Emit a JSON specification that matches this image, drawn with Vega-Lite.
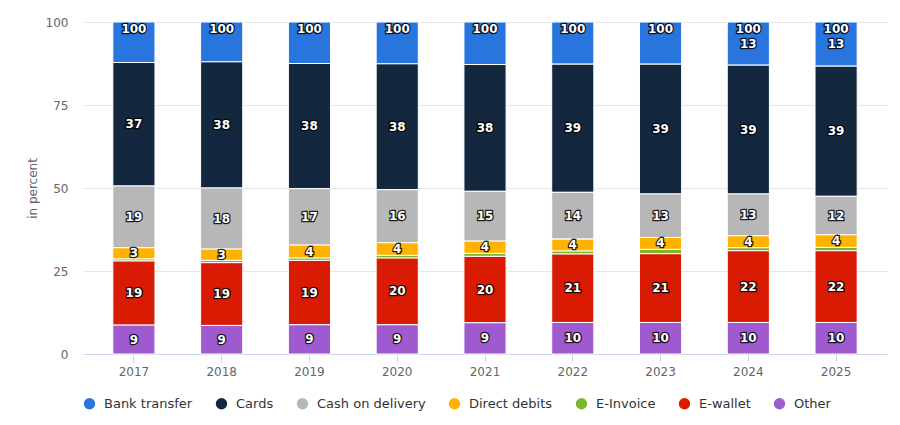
{
  "$schema": "https://vega.github.io/schema/vega-lite/v6.json",
  "width": 804,
  "height": 332,
  "autosize": {"type": "none"},
  "padding": {"left": 83, "top": 22, "right": 13, "bottom": 71},
  "background": "#ffffff",
  "config": {
    "font": "DejaVu Sans",
    "view": {"stroke": null},
    "axis": {"labelFont": "DejaVu Sans", "titleFont": "DejaVu Sans"}
  },
  "data": {"values": [
    {"year": "2017", "cat": "Bank transfer", "value": 12.2},
    {"year": "2017", "cat": "Cards", "value": 37.2},
    {"year": "2017", "cat": "Cash on delivery", "value": 18.6},
    {"year": "2017", "cat": "Direct debits", "value": 3.4},
    {"year": "2017", "cat": "E-Invoice", "value": 0.6},
    {"year": "2017", "cat": "E-wallet", "value": 19.3},
    {"year": "2017", "cat": "Other", "value": 8.7},
    {"year": "2018", "cat": "Bank transfer", "value": 12.0},
    {"year": "2018", "cat": "Cards", "value": 38.0},
    {"year": "2018", "cat": "Cash on delivery", "value": 18.4},
    {"year": "2018", "cat": "Direct debits", "value": 3.4},
    {"year": "2018", "cat": "E-Invoice", "value": 0.7},
    {"year": "2018", "cat": "E-wallet", "value": 18.9},
    {"year": "2018", "cat": "Other", "value": 8.6},
    {"year": "2019", "cat": "Bank transfer", "value": 12.5},
    {"year": "2019", "cat": "Cards", "value": 37.7},
    {"year": "2019", "cat": "Cash on delivery", "value": 17.0},
    {"year": "2019", "cat": "Direct debits", "value": 3.9},
    {"year": "2019", "cat": "E-Invoice", "value": 0.7},
    {"year": "2019", "cat": "E-wallet", "value": 19.4},
    {"year": "2019", "cat": "Other", "value": 8.8},
    {"year": "2020", "cat": "Bank transfer", "value": 12.6},
    {"year": "2020", "cat": "Cards", "value": 37.9},
    {"year": "2020", "cat": "Cash on delivery", "value": 16.0},
    {"year": "2020", "cat": "Direct debits", "value": 3.8},
    {"year": "2020", "cat": "E-Invoice", "value": 0.8},
    {"year": "2020", "cat": "E-wallet", "value": 20.1},
    {"year": "2020", "cat": "Other", "value": 8.8},
    {"year": "2021", "cat": "Bank transfer", "value": 12.8},
    {"year": "2021", "cat": "Cards", "value": 38.2},
    {"year": "2021", "cat": "Cash on delivery", "value": 15.0},
    {"year": "2021", "cat": "Direct debits", "value": 3.7},
    {"year": "2021", "cat": "E-Invoice", "value": 0.9},
    {"year": "2021", "cat": "E-wallet", "value": 20.0},
    {"year": "2021", "cat": "Other", "value": 9.4},
    {"year": "2022", "cat": "Bank transfer", "value": 12.7},
    {"year": "2022", "cat": "Cards", "value": 38.6},
    {"year": "2022", "cat": "Cash on delivery", "value": 14.1},
    {"year": "2022", "cat": "Direct debits", "value": 3.6},
    {"year": "2022", "cat": "E-Invoice", "value": 0.9},
    {"year": "2022", "cat": "E-wallet", "value": 20.6},
    {"year": "2022", "cat": "Other", "value": 9.5},
    {"year": "2023", "cat": "Bank transfer", "value": 12.7},
    {"year": "2023", "cat": "Cards", "value": 39.1},
    {"year": "2023", "cat": "Cash on delivery", "value": 13.1},
    {"year": "2023", "cat": "Direct debits", "value": 3.6},
    {"year": "2023", "cat": "E-Invoice", "value": 1.3},
    {"year": "2023", "cat": "E-wallet", "value": 20.7},
    {"year": "2023", "cat": "Other", "value": 9.5},
    {"year": "2024", "cat": "Bank transfer", "value": 13.0},
    {"year": "2024", "cat": "Cards", "value": 38.8},
    {"year": "2024", "cat": "Cash on delivery", "value": 12.6},
    {"year": "2024", "cat": "Direct debits", "value": 3.6},
    {"year": "2024", "cat": "E-Invoice", "value": 0.9},
    {"year": "2024", "cat": "E-wallet", "value": 21.6},
    {"year": "2024", "cat": "Other", "value": 9.5},
    {"year": "2025", "cat": "Bank transfer", "value": 13.3},
    {"year": "2025", "cat": "Cards", "value": 39.2},
    {"year": "2025", "cat": "Cash on delivery", "value": 11.6},
    {"year": "2025", "cat": "Direct debits", "value": 3.8},
    {"year": "2025", "cat": "E-Invoice", "value": 1.0},
    {"year": "2025", "cat": "E-wallet", "value": 21.6},
    {"year": "2025", "cat": "Other", "value": 9.5}
  ]},
  "encoding": {
    "x": {
      "field": "year", "type": "ordinal",
      "scale": {"paddingInner": 0.52, "paddingOuter": 0.34},
      "axis": {
        "title": null, "labelAngle": 0, "labelColor": "#666666", "labelFontSize": 12,
        "domainColor": "#ccd6eb", "tickColor": "#ccd6eb", "tickSize": 8, "labelPadding": 4,
        "grid": false
      }
    }
  },
  "layer": [
    {
      "mark": {"type": "bar", "stroke": "#ffffff", "strokeWidth": 1},
      "encoding": {
        "y": {
          "field": "value", "type": "quantitative", "stack": "zero",
          "scale": {"domain": [0, 100], "nice": false},
          "axis": {
            "title": "in percent", "titleColor": "#666666", "titleFontWeight": "normal", "titleFontSize": 12,
            "titlePadding": 6,
            "values": [0, 25, 50, 75, 100], "labelColor": "#666666", "labelFontSize": 12,
            "domain": false, "ticks": false, "labelPadding": 15, "gridColor": "#e6e6e6"
          }
        },
        "color": {
          "field": "cat", "type": "nominal",
          "scale": {
            "domain": ["Bank transfer", "Cards", "Cash on delivery", "Direct debits", "E-Invoice", "E-wallet", "Other"],
            "range": ["#2876dd", "#13283e", "#b7b7b7", "#ffb300", "#7cb82f", "#d81b02", "#a05ad0"]
          },
          "legend": {
            "title": null, "orient": "none", "direction": "horizontal",
            "legendX": 0, "legendY": 375,
            "symbolType": "circle", "symbolSize": 130, "symbolStrokeWidth": 0,
            "labelFontSize": 13, "labelColor": "#333333", "labelFont": "DejaVu Sans",
            "columnPadding": 22, "labelOffset": 8
          }
        },
        "order": {"field": "cat", "sort": "descending"}
      }
    },
    {
      "mark": {"type": "text", "fontSize": 12, "fontWeight": "bold", "stroke": "#000000", "strokeWidth": 2.5, "strokeOpacity": 0.85, "fill": "#000000", "baseline": "middle"},
      "encoding": {
        "y": {"field": "value", "type": "quantitative", "stack": "zero", "bandPosition": 0.5},
        "text": {"field": "value", "type": "quantitative", "format": ".0f"},
        "order": {"field": "cat", "sort": "descending"},
        "detail": {"field": "cat"},
        "opacity": {"condition": {"test": "datum.cat == 'E-Invoice' || (datum.cat == 'Bank transfer' && datum.value < 13)", "value": 0}, "value": 1}
      }
    },
    {
      "mark": {"type": "text", "fontSize": 12, "fontWeight": "bold", "fill": "#ffffff", "baseline": "middle"},
      "encoding": {
        "y": {"field": "value", "type": "quantitative", "stack": "zero", "bandPosition": 0.5},
        "text": {"field": "value", "type": "quantitative", "format": ".0f"},
        "order": {"field": "cat", "sort": "descending"},
        "detail": {"field": "cat"},
        "opacity": {"condition": {"test": "datum.cat == 'E-Invoice' || (datum.cat == 'Bank transfer' && datum.value < 13)", "value": 0}, "value": 1}
      }
    },
    {
      "mark": {"type": "text", "fontSize": 12, "fontWeight": "bold", "stroke": "#000000", "strokeWidth": 2.5, "strokeOpacity": 0.85, "fill": "#000000", "baseline": "middle", "dy": 7},
      "encoding": {
        "y": {"aggregate": "sum", "field": "value", "type": "quantitative"},
        "text": {"aggregate": "sum", "field": "value", "type": "quantitative", "format": ".0f"}
      }
    },
    {
      "mark": {"type": "text", "fontSize": 12, "fontWeight": "bold", "fill": "#ffffff", "baseline": "middle", "dy": 7},
      "encoding": {
        "y": {"aggregate": "sum", "field": "value", "type": "quantitative"},
        "text": {"aggregate": "sum", "field": "value", "type": "quantitative", "format": ".0f"}
      }
    }
  ]
}
